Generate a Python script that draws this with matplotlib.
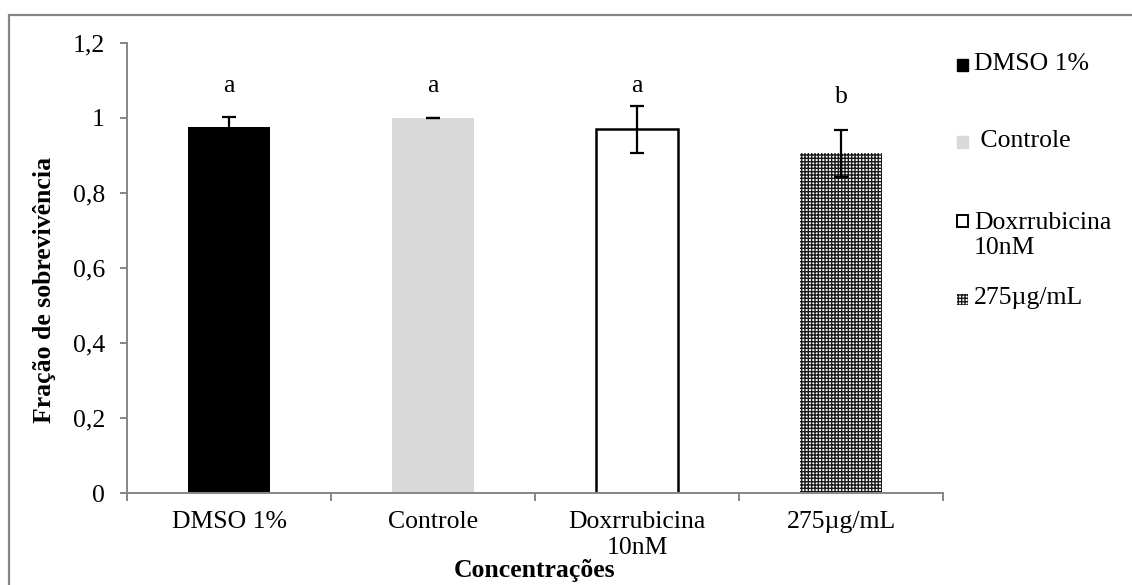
import matplotlib
matplotlib.use("Agg")
import matplotlib.pyplot as plt
from matplotlib.patches import Rectangle
import numpy as np

# survival fraction per treatment, with error bars and significance letters
categorias = ["DMSO 1%", "Controle", "Doxrrubicina\n10nM", "275µg/mL"]
legenda = ["DMSO 1%", " Controle", "Doxrrubicina\n10nM", "275µg/mL"]
fracao = [0.977, 1.000, 0.970, 0.906]
erro = [0.027, 0.001, 0.062, 0.063]
letras = ["a", "a", "a", "b"]
letras_y = [1.085, 1.085, 1.085, 1.055]
yticks = [0, 0.2, 0.4, 0.6, 0.8, 1.0, 1.2]
yticklabels = ["0", "0,2", "0,4", "0,6", "0,8", "1", "1,2"]

plt.rcParams["font.family"] = ["Liberation Serif", "DejaVu Serif"]
plt.rcParams["hatch.linewidth"] = 1.0

cinza = "#868686"
fs = 18.5

W, H = 1132, 585
fig = plt.figure(figsize=(W / 100, H / 100), dpi=100)
ax = fig.add_axes([127 / W, 1 - 493 / H, (943 - 127) / W, (493 - 43) / H])

x = np.arange(len(categorias))
estilos = [
    dict(color="black"),
    dict(color="#d9d9d9"),
    dict(facecolor="white", edgecolor="black", linewidth=1.8),
    dict(facecolor="white", edgecolor="#1a1a1a", linewidth=0, hatch="+++++"),
]
for i in range(len(x)):
    ax.bar(x[i], fracao[i], width=0.4, zorder=2, **estilos[i])

ax.errorbar(x, fracao, yerr=erro, fmt="none", ecolor="black", elinewidth=1.6,
            capsize=4.7, capthick=1.6, zorder=3)

for i in range(len(x)):
    ax.text(x[i], letras_y[i], letras[i], ha="center", va="center", fontsize=fs)

ax.set_xlim(-0.5, len(x) - 0.5)
ax.set_ylim(0, 1.2)
ax.set_yticks(yticks)
ax.set_yticklabels(yticklabels, fontsize=fs)

# boundaries between groups get the tick marks, the names sit in the middle
ax.set_xticks(np.arange(len(x) + 1) - 0.5)
ax.set_xticklabels([])
ax.set_xticks(x, minor=True)
ax.set_xticklabels(categorias, minor=True, fontsize=fs, linespacing=1.25)
ax.tick_params(axis="x", which="minor", length=0, pad=13)
ax.tick_params(axis="x", which="major", direction="out", length=6, width=1.4, color=cinza)
ax.tick_params(axis="y", direction="out", length=5, width=1.4, color=cinza, pad=11)

for s in ["top", "right"]:
    ax.spines[s].set_visible(False)
for s in ["left", "bottom"]:
    ax.spines[s].set_color(cinza)
    ax.spines[s].set_linewidth(1.4)

ax.set_ylabel("Fração de sobrevivência", fontsize=fs, fontweight="bold")
ax.yaxis.set_label_coords((56 - 127) / 816, (493 - 290) / 450)
ax.set_xlabel("Concentrações", fontsize=fs, fontweight="bold")
ax.xaxis.label.set_va("center")
ax.xaxis.set_label_coords(0.5, (493 - 571) / 450)

# legend to the right of the plot
leg_y = [65, 142, 221, 299]
for i in range(len(legenda)):
    yc = 1 - leg_y[i] / H
    est = dict(estilos[i])
    if i == 2:
        est["linewidth"] = 1.4
    fig.add_artist(Rectangle((957 / W, yc - 5.5 / H), 11 / W, 11 / H,
                             transform=fig.transFigure, **est))
    if i == 2:
        fig.text(974 / W, yc + 9 / H, legenda[i], fontsize=fs, ha="left", va="top",
                 transform=fig.transFigure, linespacing=1.2)
    else:
        fig.text(974 / W, yc + 1 / H, legenda[i], fontsize=fs, ha="left", va="center",
                 transform=fig.transFigure)

# outer frame around the chart area
fig.add_artist(Rectangle((9 / W, -0.2), 1.2, 1.2 - 15 / H, transform=fig.transFigure,
                         fill=False, edgecolor=cinza, linewidth=1.6))

fig.savefig("out.png", dpi=100)
